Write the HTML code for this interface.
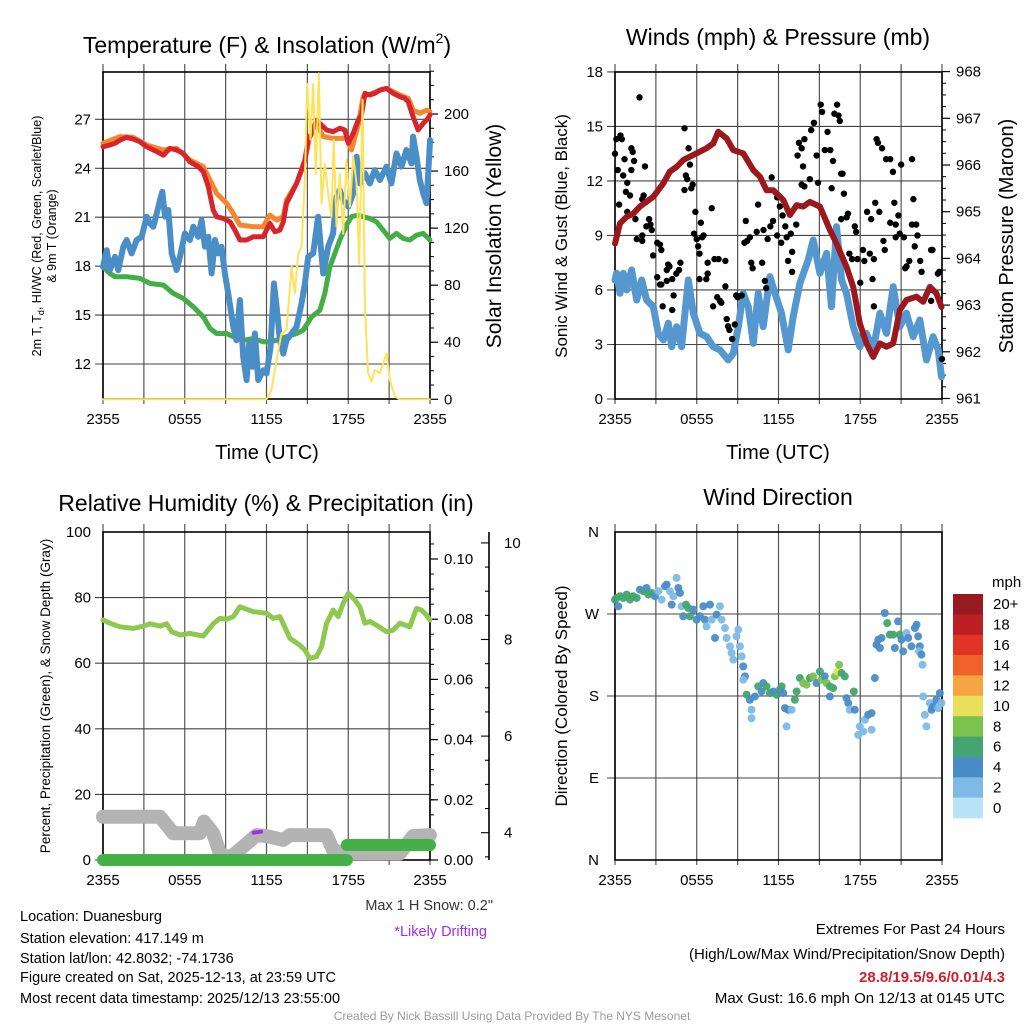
<!DOCTYPE html>
<html><head><meta charset="utf-8">
<style>
html,body{margin:0;padding:0;background:#fff;}
svg{display:block;font-family:"Liberation Sans",Arial,sans-serif;}
</style></head>
<body>
<svg id="c" width="1024" height="1024" viewBox="0 0 1024 1024" xmlns="http://www.w3.org/2000/svg">
<rect x="0" y="0" width="1024" height="1024" fill="#fff"/>
<g id="layer"></g>
<!-- titles -->
<text x="267" y="53" font-size="23" text-anchor="middle">Temperature (F) &amp; Insolation (W/m<tspan font-size="14" dy="-10">2</tspan><tspan dy="10">)</tspan></text>
<text x="778" y="45" font-size="23" text-anchor="middle">Winds (mph) &amp; Pressure (mb)</text>
<text x="266" y="511" font-size="23" text-anchor="middle">Relative Humidity (%) &amp; Precipitation (in)</text>
<text x="778" y="505" font-size="23" text-anchor="middle">Wind Direction</text>
<!-- axis titles -->
<text x="267" y="459" font-size="20" text-anchor="middle">Time (UTC)</text>
<text x="778" y="459" font-size="20" text-anchor="middle">Time (UTC)</text>
<text transform="translate(41,236) rotate(-90)" font-size="12.5" text-anchor="middle">2m T, T<tspan font-size="9" dy="3">d</tspan><tspan dy="-3">, HI/WC (Red, Green, Scarlet/Blue)</tspan></text>
<text transform="translate(56,236) rotate(-90)" font-size="12.5" text-anchor="middle">&amp; 9m T (Orange)</text>
<text transform="translate(501,236) rotate(-90)" font-size="21" text-anchor="middle">Solar Insolation (Yellow)</text>
<text transform="translate(567,236) rotate(-90)" font-size="17" text-anchor="middle">Sonic Wind &amp; Gust (Blue, Black)</text>
<text transform="translate(1013,236) rotate(-90)" font-size="20" text-anchor="middle">Station Pressure (Maroon)</text>
<text transform="translate(50,696) rotate(-90)" font-size="13.5" text-anchor="middle">Percent, Precipitation (Green), &amp; Snow Depth (Gray)</text>
<text transform="translate(567,696) rotate(-90)" font-size="17" text-anchor="middle">Direction (Colored By Speed)</text>
<!-- notes -->
<text x="493" y="910" font-size="14.5" text-anchor="end" fill="#333">Max 1 H Snow: 0.2"</text>
<text x="487" y="936" font-size="14.5" text-anchor="end" fill="#a030e0">*Likely Drifting</text>
<g font-size="14.5">
<text x="20" y="921">Location: Duanesburg</text>
<text x="20" y="943">Station elevation: 417.149 m</text>
<text x="20" y="963">Station lat/lon: 42.8032; -74.1736</text>
<text x="20" y="982">Figure created on Sat, 2025-12-13, at 23:59 UTC</text>
<text x="20" y="1003">Most recent data timestamp: 2025/12/13 23:55:00</text>
</g>
<g font-size="15" text-anchor="end">
<text x="1005" y="934">Extremes For Past 24 Hours</text>
<text x="1005" y="959">(High/Low/Max Wind/Precipitation/Snow Depth)</text>
<text x="1005" y="982" fill="#d0202a" font-weight="bold">28.8/19.5/9.6/0.01/4.3</text>
<text x="1005" y="1003">Max Gust: 16.6 mph On 12/13 at 0145 UTC</text>
</g>
<text x="512" y="1020" font-size="12" text-anchor="middle" fill="#9a9a9a">Created By Nick Bassill Using Data Provided By The NYS Mesonet</text>
</svg>
<script>
// ---------- DATA ----------
const xTickLabels = ["2355","0555","1155","1755","2355"];
// Panel 1
const tempT = [0,0.51,0.88,1.25,1.74,2.22,2.71,3.2,3.94,4.43,4.91,5.4,5.89,6.38,6.99,7.36,7.73,8.09,8.34,8.83,9.32,9.68,10.05,10.54,11.03,11.76,12,12.25,12.62,12.98,13.23,13.47,13.84,14.21,14.57,14.82,15.06,15.31,15.67,16.04,16.41,16.89,17.38,17.75,18,18.36,18.73,18.97,19.22,19.58,19.95,20.32,20.81,21.3,21.78,22.15,22.4,22.76,23.13,23.5,23.86,24];
const tempV = [25.32,25.43,25.53,25.73,25.9,25.79,25.63,25.32,25.02,24.81,25.22,25.12,24.91,24.4,24.1,23.79,22.87,21.44,21.03,20.93,20.72,20.21,19.6,19.6,19.8,19.8,20.21,20.62,20.11,20.21,20.72,21.85,22.46,23.07,23.89,24.51,25.73,26.14,26.96,26.65,26.35,26.24,26.45,26.35,25.53,26.14,26.96,27.27,28.6,28.49,28.6,28.8,28.9,28.6,28.39,28.29,28.08,27.16,26.35,26.75,27.06,27.27];
const t9T = [0,1.25,2.22,3.2,4.43,5.4,6.38,7.36,7.85,8.34,9.07,9.56,10.05,11.03,11.76,12.25,12.74,13.23,13.47,14.21,14.82,15.18,15.67,16.16,16.89,17.87,18.24,18.73,19.1,20.07,20.81,21.78,22.4,22.76,23.25,23.74,24];
const t9V = [25.53,25.94,25.9,25.43,25.12,25.22,24.51,24.1,23.28,22.46,21.85,21.23,20.52,20.42,20.42,21.13,20.82,21.03,22.05,23.07,24.51,25.94,26.75,25.94,25.83,25.83,25.12,26.65,28.39,28.7,28.9,28.49,28.29,27.57,27.37,27.57,27.47];
const dewT = [0,0.51,0.88,1.74,2.71,3.45,4.43,5.16,5.89,6.63,7.36,7.85,8.34,9.07,9.56,10.29,11.03,11.76,12.25,12.74,13.47,14.21,14.69,15.31,15.92,16.28,16.65,17.02,17.38,17.87,18.24,18.73,19.1,19.58,20.07,20.56,21.05,21.54,22.03,22.52,23.01,23.5,23.99];
const dewV = [17.96,17.55,17.35,17.35,17.25,16.94,16.84,16.33,16.02,15.51,14.89,14.18,13.87,13.87,13.67,13.46,13.56,13.36,13.36,13.46,13.67,13.87,14.08,14.89,15.3,16.33,17.96,18.78,19.6,20.52,21.03,21.13,21.03,20.93,20.72,20.21,19.7,20.01,19.7,19.6,19.9,20.01,19.6];
const wcT = [0,0.27,0.51,0.88,1.12,1.49,1.74,2.1,2.47,2.84,3.2,3.45,3.69,3.94,4.18,4.35,4.55,4.79,5.04,5.4,5.65,6.01,6.38,6.63,6.99,7.24,7.48,7.73,7.97,8.22,8.46,8.7,8.95,9.19,9.56,9.8,10.05,10.29,10.54,10.73,10.98,11.15,11.39,11.76,12,12.3,12.54,12.74,12.98,13.23,13.47,13.84,14.21,14.57,14.82,15.06,15.43,15.79,16.16,16.53,16.89,17.14,17.38,17.63,18,18.36,18.61,18.85,19.22,19.58,19.95,20.32,20.81,21.17,21.54,21.91,22.27,22.64,22.76,23.01,23.25,23.5,23.74,23.99,24];
const wcV = [17.96,18.98,17.76,18.57,17.76,19.19,19.6,18.78,19.6,19.8,21.03,20.62,20.42,21.23,22.05,22.56,21.03,21.44,18.78,17.76,18.57,20.01,19.6,20.42,19.8,20.82,19.19,19.8,17.55,19.6,18.78,19.19,17.55,16.33,14.28,13.46,15.92,12.44,11.01,13.26,11.83,13.87,11.01,11.62,11.42,13.05,16.94,15.51,13.46,12.64,13.46,13.87,14.28,15.71,16.94,18.57,18.78,21.03,17.55,19.19,20.01,22.26,22.66,22.05,21.65,22.46,24.71,23.07,23.69,23.07,23.89,23.28,24.1,23.07,24.91,24.1,25.12,24.3,25.94,24.71,23.28,22.46,21.85,25.53,25.73];
const solT = [0,12,12.37,12.74,13.1,13.47,13.84,14.08,14.33,14.57,14.82,14.99,15.23,15.43,15.62,15.84,16.04,16.28,16.53,16.77,16.94,17.14,17.38,17.63,17.87,18.12,18.36,18.61,18.8,19.05,19.22,19.46,19.71,19.95,20.32,20.56,20.81,21.05,21.42,21.78,24];
const solV = [0,0,6.5,27.6,46.3,48.6,93,74.3,102,107,154,221,182,221,158,228.5,137,165,144,128,182,121,158,116,168,135,170,151,95,210,65,18.2,12.4,20.6,18.2,25.2,32.2,13.6,1.9,0,0];
const p1LeftTicks = [12,15,18,21,24,27];
const p1RightTicks = [0,40,80,120,160,200];
// Panel 2
const windT = [0,0.12,0.37,0.61,0.86,1.22,1.59,1.96,2.32,2.81,3.18,3.55,3.91,4.16,4.52,4.89,5.38,5.75,6.23,6.72,7.21,7.7,8.31,8.68,9.05,9.41,9.78,10.15,10.51,10.88,11.37,11.74,12.22,12.71,13.08,13.57,14.18,14.55,15.04,15.53,15.89,16.26,16.63,16.99,17.48,17.97,18.46,18.95,19.44,19.93,20.42,20.9,21.39,21.88,22.37,22.86,23.35,23.72,23.96];
const windV = [6.55,6.92,5.82,6.92,6.0,7.1,5.45,6.55,5.45,5.08,3.61,3.25,4.17,2.88,3.98,2.88,6.55,4.72,3.61,3.43,2.88,2.7,2.15,2.51,3.98,5.82,5.08,3.06,5.82,3.98,6.73,5.82,4.72,2.7,4.53,6.37,7.65,8.75,6.92,8.02,5.08,9.49,6.55,5.82,3.98,2.88,3.61,2.7,4.72,3.61,6.18,3.98,4.72,3.43,4.35,2.15,3.43,2.7,1.23];
const gustT = [0,0.1,0.4,0.5,0.2,0.6,0.7,0.9,0.8,1.1,1.2,1.3,1.2,1.4,0.3,0.9,1.5,1.8,1.6,2,2,2,2.2,2.1,2.5,2.3,2.6,2.7,2.8,3.1,3.3,3.4,3.1,3.3,3.4,3.5,3.8,3.9,4,3.8,4.2,4.3,4.2,4.5,4.7,4.8,5.1,5.1,5.2,5.3,5.4,5.5,5.6,5.7,5.8,5.9,6,6.1,6.2,6.3,6.2,6.4,6.5,6.8,6.7,6.8,7.1,7.2,7.3,7.5,7.6,7.7,7.8,8.1,8.1,8.2,8.3,8.4,8.6,8.8,8.9,9,9.3,9.5,9.6,9.7,9.9,10,10.1,10.4,10.5,10.8,10.9,11,11.1,11.2,11.4,11.5,11.6,11.9,11.9,12.1,12.2,12.3,12.5,12.6,12.7,12.9,13,13,13.3,13.4,13.5,13.7,13.9,13.7,13.8,13.9,14.3,14.4,14.6,14.8,14.9,15.1,15.2,15.4,15.6,15.8,15.9,16,16.1,16.3,16.4,16.5,16.6,16.7,16.8,16.6,17,17.1,17.2,17.4,17.6,17.7,17.8,18,18.2,18.3,18.5,18.7,18.8,19,18.9,19,19.1,19.2,19.3,19.4,19.6,19.7,19.8,19.9,20.2,20.2,20.4,20.5,20.6,20.6,20.8,20.9,21,21.2,21.3,21.4,21.6,21.8,21.8,21.9,22,22.1,22.2,22.4,22.5,23.2,23.3,23.7,23.8,23.2,23.1,24];
const gustV = [13.5,14.3,14.5,14.3,12.6,12.3,13.2,11.9,11.4,11.2,13.8,13.6,12.6,13.1,10.7,10.3,9.9,16.6,8.8,9,8.7,11,12.8,11.2,9.9,9.5,9.6,9.3,7.9,8.6,8.5,8.2,6.7,6.3,6.3,5.1,7.1,7.4,7.3,6.5,4.9,5.7,6.6,6.9,7.1,7.5,14.9,11.5,12.3,12.1,13.8,12.9,11.6,11.8,9.1,10.3,8.8,8.4,8,9.7,6.6,8.9,9,7.5,6.6,6.9,10.5,5.1,7.7,5.6,7.7,5.4,5.3,6.2,7.6,4.4,4,3.8,3.3,4.1,5.7,5.6,5.7,8.6,9.8,8.7,8.9,7.5,7.2,9.2,10.7,7.5,9.3,6.5,6.1,8.8,9.5,12.2,9.8,11.1,9,10.6,8.6,10.1,9.5,8.9,7.6,9.1,7,8.1,9.6,13.4,14.1,13.8,14.3,11.8,12.8,11.7,12.1,14.8,15.2,13.4,11.9,16.2,15.8,13.7,14.7,13.7,11.6,13.1,15.7,16.2,15.6,15.3,12.4,12.4,11.3,9.9,10,10.2,8,7.7,9.5,9.2,7.7,6.4,8.2,7.6,10.3,8,9.9,7.7,6.6,5.1,10.8,14.3,14.1,10.3,13.8,8.7,8.2,13.2,9.7,13.2,12.5,10.8,9.6,8.9,10.1,9.1,12.9,8.9,7.2,7.3,7.6,9.6,13.2,11,8.4,9.6,9,7.6,7,8.2,8.2,6.9,7,5.4,6,2.2];
const presT = [0,0.37,0.86,1.34,1.83,2.81,3.55,4.03,4.52,5.01,5.99,6.72,7.21,7.58,8.19,8.68,9.41,10.15,10.64,11.12,11.61,12.35,12.84,13.33,13.81,14.3,15.04,15.77,16.26,16.99,17.48,17.97,18.46,18.95,19.44,19.93,20.42,20.9,21.39,22.13,22.62,23.11,23.59,23.96];
const presV = [964.32,964.75,964.89,964.96,965.11,965.32,965.61,965.86,965.96,966.11,966.25,966.36,966.46,966.71,966.57,966.32,966.25,965.89,965.75,965.46,965.46,965.25,964.93,965.14,965.11,965.21,965.11,964.61,964.32,963.82,963.39,962.61,962.18,961.89,962.18,962.11,962.18,962.89,963.11,963.18,963.07,963.39,963.25,962.96];
const p2LeftTicks = [0,3,6,9,12,15,18];
const p2RightTicks = [961,962,963,964,965,966,967,968];
// Panel 3
const rhT = [0,0.51,1.25,2.22,2.96,3.45,4.18,4.67,5.04,5.65,6.38,7.36,8.09,8.58,9.07,9.56,10.05,11.03,12,12.49,12.98,13.72,14.45,14.82,15.18,15.67,16.04,16.41,16.89,17.26,17.63,18,18.48,18.85,19.22,19.58,20.07,20.81,21.3,21.78,22.52,23.01,23.37,23.74,23.99];
const rhV = [73.2,72.2,71.1,70.6,71.3,72,71.3,72,69.6,68.6,69.1,68.3,72,73.7,73.4,74.2,77.2,75.7,75.2,73.7,74.2,67.6,65.5,64,61.5,62,65,72.2,76.2,74.2,78.3,81.3,79.3,77.2,72.2,72.7,71.6,69.6,70.1,72.2,71.1,76.7,76.2,74.7,73.2];
const snowT = [0,4.18,5.16,7.11,7.41,8.09,8.58,9.32,10.29,11.27,12,13.23,13.72,16.41,16.89,17.87,21.78,22.76,23.99];
const snowV = [4.33,4.33,3.99,3.99,4.23,3.99,3.57,3.48,3.71,3.95,3.93,3.85,3.95,3.95,3.64,3.57,3.57,3.93,3.95];
const precipT = [0,17.9,24];
const precipV = [0,0.005];
const driftT = [11.05,11.6];
const driftV = [4.0,4.02];
const p3LeftTicks = [0,20,40,60,80,100];
const p3PrecipTicks = [0,0.02,0.04,0.06,0.08,0.10];
const p3PrecipLabels = ["0.00","0.02","0.04","0.06","0.08","0.10"];
const p3SnowTicks = [4,6,8,10];
// Panel 4
const dirT = [0,0.12,0.24,0.37,0.61,0.86,1.1,1.34,1.59,1.83,2.08,2.32,2.45,2.69,2.93,3.18,3.42,3.67,3.79,4.03,4.16,4.28,4.52,4.65,4.77,4.89,5.01,5.21,5.38,5.5,5.75,5.99,6.23,6.48,6.6,6.72,6.97,7.09,7.34,7.46,7.7,7.82,8.07,8.19,8.44,8.56,8.68,8.92,9.05,9.17,9.29,9.41,9.54,9.41,9.66,9.9,10.02,10.02,10.27,10.51,10.76,10.88,11.12,11.37,11.61,11.86,12.1,12.23,12.35,12.47,12.59,12.71,12.96,13.2,13.33,13.57,13.81,14.06,14.3,14.55,14.79,15.04,15.16,15.4,15.53,15.77,15.77,16.01,16.14,16.31,16.45,16.63,16.87,16.99,17.12,17.24,17.53,17.6,17.85,17.97,18.22,18.34,18.58,18.83,18.83,19.07,19.19,19.32,19.44,19.56,19.8,19.98,20.17,20.42,20.54,20.78,20.9,21.03,21.15,21.39,21.52,21.76,22.01,22.13,22.25,22.37,22.32,22.49,22.57,22.62,22.74,22.86,23.11,23.23,23.35,23.59,23.84,23.96,23.72];
const dirV = [285.8,287.6,278.5,289.5,287.6,291.3,285.8,289.5,287.6,296.8,295,298.6,291.3,293.1,289.5,295,285.8,300.4,302.3,295,280.3,289.5,309.6,298.6,293.1,278.5,267.5,280.3,276.6,267.5,274.8,263.8,267.5,278.5,263.8,256.5,280.3,263.8,243.7,269.3,278.5,263.8,254.6,243.7,234.5,227.2,219.9,245.5,252.8,234.5,223.5,212.5,201.5,197.9,181.4,175.9,164.9,155.7,179.5,190.5,185,194.2,190.5,183.2,185,181.4,186.9,190.5,183.2,166.7,146.6,164.9,164.9,175.9,185,199.7,194.2,192.4,199.7,201.5,194.2,207,197.9,201.5,194.2,190.5,179.5,188.7,201.5,207,214.3,205.2,201.5,177.7,172.2,164.9,185,164.9,137.4,146.6,141.1,153.9,159.4,161.2,142.9,199.7,236.3,241.8,232.7,243.7,271.1,260.1,247.3,247.3,232.7,261.9,247.3,241.8,229,249.2,243.7,234.5,254.6,258.3,245.5,234.5,229,225.4,214.3,179.5,159.4,146.6,172.2,164.9,168.5,175.9,183.2,172.2,166.7];
const dirSpd = [6,6,4,6,6,6,6,6,6,4,6,4,6,6,4,2,2,4,4,2,4,2,2,4,4,2,4,6,6,6,4,4,4,4,4,2,4,2,4,4,2,2,2,2,2,2,2,2,2,2,2,4,4,2,6,4,2,2,4,6,4,4,6,6,4,6,4,6,4,4,2,4,2,6,6,6,8,8,6,8,4,6,8,4,8,6,4,6,8,10,8,6,6,4,4,2,6,4,2,2,2,2,4,4,2,4,4,4,4,4,4,6,6,6,4,4,6,4,4,2,4,4,4,4,4,4,2,4,2,2,2,2,2,4,4,4,4,2,2];
const dirTicks = [0,90,180,270,360];
const dirLabels = ["N","E","S","W","N"];
const cbarLabels = ["20+","18","16","14","12","10","8","6","4","2","0"];
const cbarColors = ["#961a1e","#bd1e24","#e03427","#f0622a","#f6a543","#e8e05a","#7cc24f","#45a56e","#4a8dc6","#7dbae6","#b9e2f6"];

// ---------- DRAWING ----------
const NS="http://www.w3.org/2000/svg";
const L=document.getElementById('layer');
function mk(tag,attrs,parent){const e=document.createElementNS(NS,tag);for(const k in attrs)e.setAttribute(k,attrs[k]);(parent||L).appendChild(e);return e;}
function txt(x,y,s,size,anchor,parent){const e=mk('text',{x:x,y:y,'font-size':size,'text-anchor':anchor},parent);e.textContent=s;return e;}

const P1={x0:103,x1:430,y0:72,y1:399};
const P2={x0:615,x1:942,y0:72,y1:399};
const P3={x0:103,x1:430,y0:532,y1:860};
const P4={x0:615,x1:942,y0:532,y1:860};
function xs(P){return t=>P.x0+t*(P.x1-P.x0)/24;}
const yT=v=>364-(v-12)*16.31;
const yI=v=>399.3-v*1.4265;
const yS=v=>399-v*18.17;
const yP=v=>398.5-(v-961)*46.7;
const yRH=v=>860-v*3.28;
const yPr=v=>860-v*3010;
const ySn=v=>832.7-(v-4)*48.3;
const yD=v=>860-v*328/360;

function frame(P,hVals,hFn,name){
  const g=mk('g',{});
  
  
  const X=xs(P);
  for(let h=0;h<=24;h+=3){const x=X(h);mk('line',{x1:x,x2:x,y1:P.y0-8,y2:P.y1+5,stroke:'#555','stroke-width':1.2},g);}
  hVals.forEach(v=>{const y=hFn(v);mk('line',{x1:P.x0-8,x2:P.x1,y1:y,y2:y,stroke:'#444','stroke-width':1.1},g);});
  mk('rect',{x:P.x0,y:P.y0,width:P.x1-P.x0,height:P.y1-P.y0,fill:'none',stroke:'#000','stroke-width':1.6},g);
  const lab=mk('g',{'font-size':15});
  
  
  xTickLabels.forEach((s,i)=>txt(X(i*6),P.y1+25,s,15,'middle',lab));
}
function poly(P,T,V,yf,stroke,w,name,parent){
  const X=xs(P);
  const pts=T.map((t,i)=>X(t).toFixed(1)+','+yf(V[i]).toFixed(1)).join(' ');
  const e=mk('polyline',{points:pts,fill:'none',stroke:stroke,'stroke-width':w,'stroke-linejoin':'round','stroke-linecap':'round'},parent);
  
  
  return e;
}
function leftTicks(P,vals,fn,labels,name){
  const g=mk('g',{});
  
  
  vals.forEach((v,i)=>{txt(P.x0-12,fn(v)+5,labels?labels[i]:String(v),15,'end',g);});
}
function rightTicks(x,vals,fn,labels,name,minor){
  const g=mk('g',{});
  
  
  vals.forEach((v,i)=>{const y=fn(v);mk('line',{x1:x,x2:x+8,y1:y,y2:y,stroke:'#000','stroke-width':1.2},g);txt(x+14,y+5,labels?labels[i]:String(v),15,'start',g);});
  if(minor){minor.forEach(v=>{const y=fn(v);mk('line',{x1:x,x2:x+4,y1:y,y2:y,stroke:'#000','stroke-width':1},g);});}
}

// Panel 1
frame(P1,p1LeftTicks,yT,'temp-panel');
leftTicks(P1,p1LeftTicks,yT,null,'p1-left-ticks');
const p1minor=[];for(let v=10;v<=230;v+=10)if(v%40)p1minor.push(v);
rightTicks(P1.x1,p1RightTicks,yI,null,'p1-right-ticks',p1minor);
poly(P1,t9T,t9V,yT,'#f5862e',5,'9m-temperature-line');
poly(P1,tempT,tempV,yT,'#d7262b',5,'2m-temperature-line');
poly(P1,dewT,dewV,yT,'#45ad45',5,'dewpoint-line');
poly(P1,wcT,wcV,yT,'#4a8ec8',6,'wind-chill-line');
poly(P1,solT,solV,yI,'#fde25a',2,'solar-insolation-line');

// Panel 2
frame(P2,p2LeftTicks,yS,'wind-panel');
leftTicks(P2,p2LeftTicks,yS,null,'p2-left-ticks');
const p2minor=[];for(let v=961;v<968;v+=0.25)if(v%1)p2minor.push(v);
rightTicks(P2.x1,p2RightTicks,yP,null,'p2-right-ticks',p2minor);
poly(P2,windT,windV,yS,'#5598d0',7,'sonic-wind-line');
{const g=mk('g',{fill:'#000'});
const X=xs(P2);
gustT.forEach((t,i)=>{const c=mk('circle',{cx:X(t),cy:yS(gustV[i]),r:3.2},g);

});}
poly(P2,presT,presV,yP,'#9b181c',6,'pressure-line');

// Panel 3
frame(P3,p3LeftTicks.slice(0,5),yRH,'humidity-panel');
leftTicks(P3,p3LeftTicks,yRH,null,'p3-left-ticks');
const p3minor=[];for(let v=0.005;v<0.11;v+=0.005)p3minor.push(v);
rightTicks(P3.x1,p3PrecipTicks,yPr,p3PrecipLabels,'p3-precip-ticks',p3minor);
{const g=mk('g',{});
mk('line',{x1:489,x2:489,y1:532,y2:860,stroke:'#000','stroke-width':1.6},g);
for(let v=3.5;v<=10.2;v+=0.5){const y=ySn(v);mk('line',{x1:489,x2:489-(v%2===0?8:4),y1:y,y2:y,stroke:'#000','stroke-width':1.1},g);}
p3SnowTicks.forEach(v=>txt(504,ySn(v)+5,String(v),15,'start',g));}
poly(P3,snowT,snowV,ySn,'#b3b3b3',14,'snow-depth-line');
{const X=xs(P3);for(let i=0;i<precipV.length;i++){const y=yPr(precipV[i]);
const s=mk('line',{x1:X(precipT[i]),x2:X(precipT[i+1]),y1:y,y2:y,stroke:'#44b045','stroke-width':12,'stroke-linecap':'round'});

}}
poly(P3,driftT,driftV,ySn,'#a030e0',4,'drifting-marker');
poly(P3,rhT,rhV,yRH,'#8dc84f',5,'relative-humidity-line');

// Panel 4
frame(P4,[90,180,270],yD,'direction-panel');
{const g=mk('g',{});
dirTicks.forEach((v,i)=>txt(P4.x0-16,yD(v)+5,dirLabels[i],15,'end',g));}
function spdColor(s){let idx=Math.floor(s/2);if(idx>10)idx=10;return cbarColors[10-idx];}
{const g=mk('g',{'fill-opacity':0.95});
const X=xs(P4);
dirT.forEach((t,i)=>{const c=mk('circle',{cx:X(t),cy:yD(dirV[i]),r:4,fill:spdColor(dirSpd[i])},g);

});}
{const g=mk('g',{});
txt(992,587,'mph',15,'start',g);
const bh=224/cbarColors.length;
cbarColors.forEach((c,i)=>{mk('rect',{x:953,y:594+i*bh,width:30,height:bh+0.3,fill:c},g);
txt(993,594+i*bh+bh/2+5,cbarLabels[i],15,'start',g);});}
</script>
</body></html>
